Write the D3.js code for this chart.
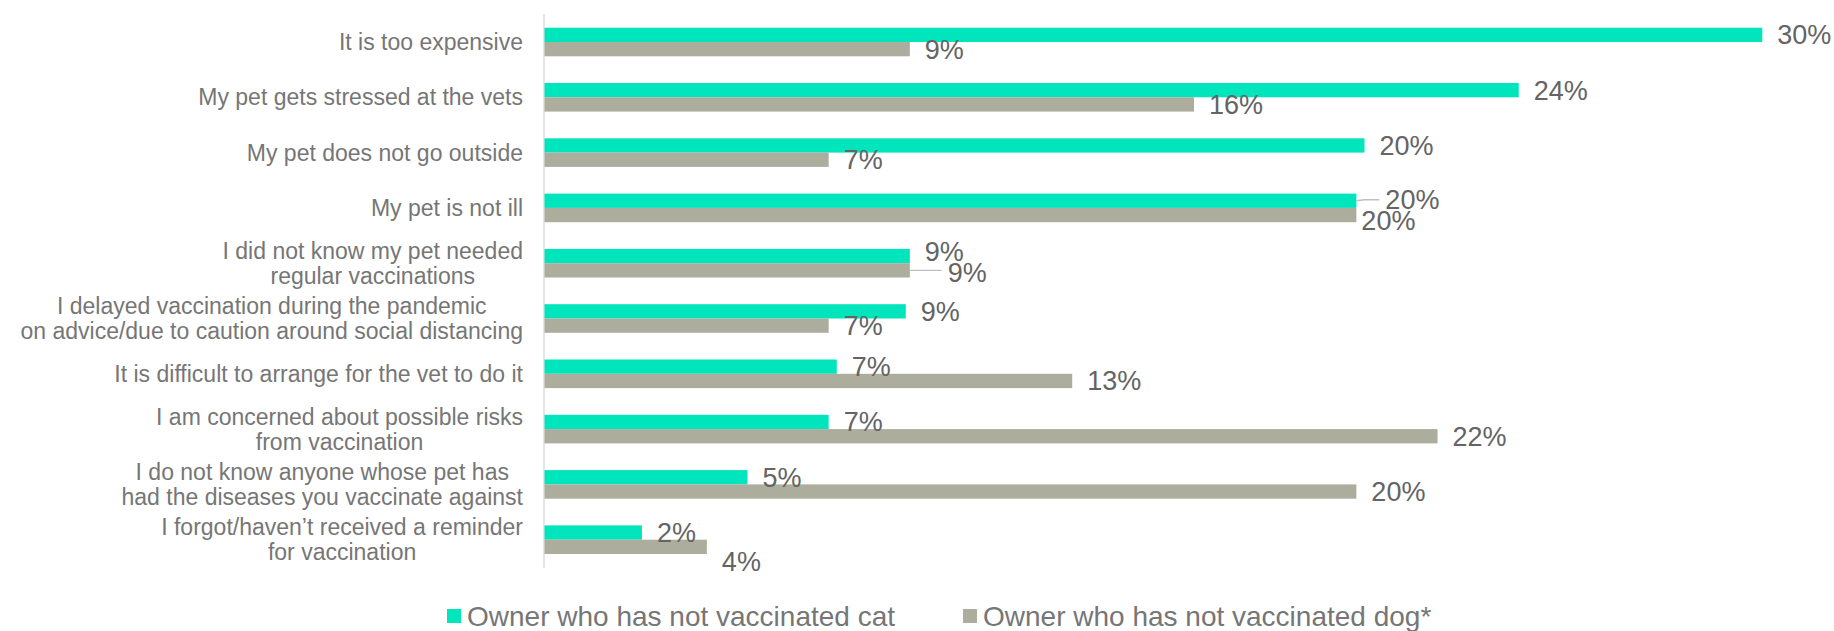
<!DOCTYPE html>
<html>
<head>
<meta charset="utf-8">
<script src="https://cdn.jsdelivr.net/npm/d3@7"></script>
<style>
  html, body { margin: 0; padding: 0; background: #ffffff; }
  svg { display: block; font-family: "Liberation Sans", Arial, sans-serif; }
</style>
</head>
<body>
<svg id="chart" width="1834" height="631"></svg>
<script>
// Reasons for not vaccinating, one entry per row (lines of the wrapped label)
const categories = [
  ["It is too expensive"],
  ["My pet gets stressed at the vets"],
  ["My pet does not go outside"],
  ["My pet is not ill"],
  ["I did not know my pet needed", "regular vaccinations"],
  ["I delayed vaccination during the pandemic", "on advice/due to caution around social distancing"],
  ["It is difficult to arrange for the vet to do it"],
  ["I am concerned about possible risks", "from vaccination"],
  ["I do not know anyone whose pet has", "had the diseases you vaccinate against"],
  ["I forgot/haven\u2019t received a reminder", "for vaccination"]
];

// Share of owners giving each reason (%)
const catValues = [30.0, 24.0, 20.2, 20.0, 9.0, 8.9, 7.2, 7.0, 5.0, 2.4];
const dogValues = [9.0, 16.0, 7.0, 20.0, 9.0, 7.0, 13.0, 22.0, 20.0, 4.0];

const seriesNames = ["Owner who has not vaccinated cat", "Owner who has not vaccinated dog*"];
const seriesColors = ["#00e5bc", "#adad9e"];

// Nudges for value labels that would otherwise collide: [row, series, dx, dy, leader]
const labelNudges = [
  [3, 0, 14, -1, true],
  [3, 1, -10, 5.5, false],
  [4, 0, 0, -5, false],
  [4, 1, 23, 2, true],
  [9, 1, 0, 14.5, false]
];

const svg = d3.select("#chart");
const keys = categories.map((c, i) => "r" + i);

const x = d3.scaleLinear().domain([0, 30]).range([544.5, 1762.3]);
const y = d3.scaleBand().domain(keys).range([1, 580.7]).padding(0.483);
const ySub = d3.scaleBand().domain([0, 1]).range([0, y.bandwidth()]);

const rows = keys.map((k, i) => ({ key: k, i, lines: categories[i], vals: [catValues[i], dogValues[i]] }));

// Vertical axis line
svg.append("line")
  .attr("x1", x(0) - 0.5).attr("x2", x(0) - 0.5)
  .attr("y1", 14).attr("y2", 568)
  .attr("stroke", "#d9d9d9").attr("stroke-width", 1.3);

// Bars
const groups = svg.append("g").selectAll("g").data(rows).join("g")
  .attr("transform", d => `translate(0,${y(d.key)})`);

groups.selectAll("rect").data(d => d.vals.map((v, s) => ({ v, s }))).join("rect")
  .attr("x", x(0))
  .attr("y", d => ySub(d.s))
  .attr("width", d => x(d.v) - x(0))
  .attr("height", ySub.bandwidth())
  .attr("fill", d => seriesColors[d.s]);

// Value labels
const fmt = v => d3.format(".0f")(v) + "%";
const nudgeOf = (i, s) => labelNudges.find(n => n[0] === i && n[1] === s);
const labelData = [];
rows.forEach(r => r.vals.forEach((v, s) => labelData.push({ i: r.i, key: r.key, v, s })));

const labelG = svg.append("g");
labelData.forEach(d => {
  const n = nudgeOf(d.i, d.s);
  const dx = n ? n[2] : 0, dy = n ? n[3] : 0;
  const cy = y(d.key) + ySub(d.s) + ySub.bandwidth() / 2;
  const lx = x(d.v) + 15 + dx;
  if (n && n[4]) {
    labelG.append("path")
      .attr("d", d.s === 0
        ? `M${x(d.v)},${cy} L${x(d.v) + 8},${cy - 1} L${lx - 6},${cy - 1}`
        : `M${x(d.v)},${cy} L${lx - 6},${cy}`)
      .attr("fill", "none").attr("stroke", "#bfbfbf").attr("stroke-width", 1.3);
  }
  labelG.append("text")
    .attr("x", lx)
    .attr("y", cy + dy)
    .attr("dy", "0.35em")
    .attr("font-size", 27)
    .attr("fill", "#646464")
    .text(fmt(d.v));
});

// Category labels: block right-aligned, lines centred within the block
const catG = svg.append("g");
const lineH = 25;
rows.forEach(r => {
  const cy = y(r.key) + y.bandwidth() / 2;
  const texts = r.lines.map(line => catG.append("text")
    .attr("font-size", 23)
    .attr("fill", "#767676")
    .attr("text-anchor", "middle")
    .attr("dy", "0.35em")
    .text(line));
  const widths = texts.map(t => t.node().getComputedTextLength());
  const blockW = d3.max(widths);
  const right = 523;
  const n = r.lines.length;
  texts.forEach((t, li) => {
    t.attr("x", right - blockW / 2)
     .attr("y", cy + (li - (n - 1) / 2) * lineH);
  });
});

// Legend
const legend = svg.append("g");
const legendX = [447, 963];
seriesNames.forEach((name, s) => {
  legend.append("rect")
    .attr("x", legendX[s]).attr("y", 609)
    .attr("width", 14).attr("height", 14)
    .attr("fill", seriesColors[s]);
  legend.append("text")
    .attr("x", legendX[s] + 20).attr("y", 616)
    .attr("dy", "0.35em")
    .attr("font-size", 28)
    .attr("fill", "#767676")
    .text(name);
});
</script>
</body>
</html>
